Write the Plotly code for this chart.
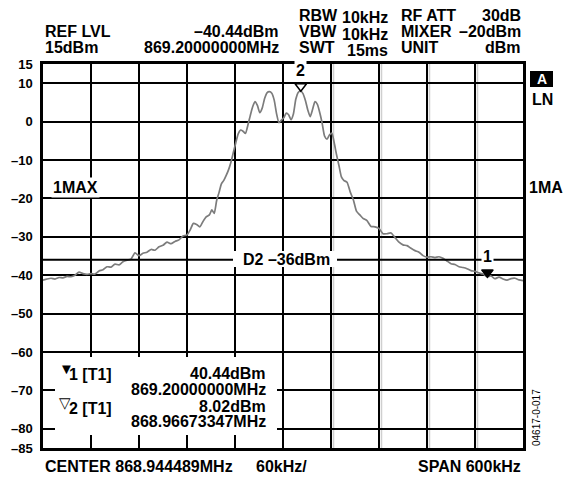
import plotly.graph_objects as go

# ---------------- data ----------------
freq_khz = [-300, -295, -290, -285, -280, -275, -270, -265, -260, -255, -250, -245, -240, -235,
            -230, -225, -220, -215, -210, -205, -200, -195, -190, -185, -180, -175, -170, -165,
            -160, -155, -150, -145, -140, -135, -130, -125, -120, -116, -112, -108, -104, -100,
            -96, -92, -89, -86, -83, -80, -77, -74, -71, -68, -65, -62, -59, -56, -53, -50, -47,
            -44, -41, -38, -35, -32, -29, -26, -23, -20, -17, -14, -11, -8, -5, -2, 1, 4, 7, 10,
            13, 16, 19, 22, 25, 28, 31, 34, 37, 40, 43, 46, 49, 52, 55, 58, 61, 64, 67, 70, 73,
            76, 80, 84, 88, 92, 96, 100, 105, 110, 115, 120, 125, 130, 135, 140, 145, 150, 155,
            160, 165, 170, 175, 180, 185, 190, 195, 200, 205, 210, 215, 220, 225, 230, 235, 240,
            245, 250, 255, 260, 265, 270, 275, 280, 285, 290, 295, 300]
level_dbm = [-41.3, -41.0, -40.8, -41.0, -40.6, -40.7, -40.3, -40.4, -40.0, -39.2, -39.6, -39.8,
             -39.6, -39.7, -38.9, -38.6, -37.8, -37.9, -37.1, -37.3, -36.5, -36.1, -35.8, -34.2,
             -34.9, -34.3, -34.0, -33.3, -33.5, -32.6, -32.2, -31.4, -31.8, -31.2, -30.8, -29.8,
             -29.5, -28.2, -26.5, -26.8, -27.4, -26.0, -24.8, -24.3, -23.0, -23.9, -20.6, -18.5,
             -16.2, -15.3, -14.0, -12.5, -10.5, -8.0, -5.5, -3.2, -2.2, -2.5, -3.1, -1.0, 1.5,
             3.8, 5.2, 4.2, 2.3, 3.5, 6.0, 7.5, 7.8, 7.4, 5.6, 2.0, -0.3, 0.4, 1.0, 2.2, 1.8, 0.5,
             2.0, 5.8, 7.6, 8.02, 7.3, 5.5, 3.0, 1.3, 3.2, 5.2, 4.5, 2.3, -0.5, -3.8, -4.6, -3.5,
             -3.0, -5.5, -8.7, -11.5, -14.4, -15.3, -15.8, -18.3, -20.4, -23.4, -24.3, -25.2,
             -25.8, -27.3, -27.4, -27.8, -29.2, -29.2, -29.0, -30.2, -31.4, -32.1, -32.3, -33.0,
             -33.6, -34.0, -34.9, -35.3, -35.2, -35.4, -35.2, -35.6, -36.3, -37.0, -37.2, -37.8,
             -38.0, -38.3, -38.8, -39.0, -39.4, -39.7, -40.4, -40.2, -40.9, -40.5, -41.0, -41.3,
             -40.9, -40.8, -41.2, -41.4]

center_mhz = 868.944489
marker_names = ["1", "2"]
marker_freq_mhz = [869.20000000, 868.96673347]
marker_level = [-40.44, 8.02]
marker_filled = [True, False]
display_line_dbm = -36

y_tickvals = [15, 10, 0, -10, -20, -30, -40, -50, -60, -70, -80, -85]
y_ticktext = ["15", "10", "0", "–10", "–20", "–30", "–40", "–50", "–60", "–70", "–80", "–85"]
x_tickvals = [-300, -240, -180, -120, -60, 0, 60, 120, 180, 240, 300]

# ---------------- layout helpers ----------------
W, H = 563, 477
L, R, T, B = 43, 40, 64, 29
PW, PH = W - L - R, H - T - B
FONT = "Liberation Sans, Arial, Helvetica, sans-serif"
FS = 16


def pxx(x):
    return (x - L) / PW


def pxy(y):
    return (H - B - y) / PH


fig = go.Figure()

fig.add_trace(go.Scatter(x=freq_khz, y=level_dbm, mode="lines",
                         line=dict(color="#7c7c7c", width=1.7, shape="spline", smoothing=0.6),
                         hoverinfo="skip", showlegend=False))

# display line D2
fig.add_trace(go.Scatter(x=[-300, 300], y=[display_line_dbm, display_line_dbm], mode="lines",
                         line=dict(color="black", width=2), hoverinfo="skip", showlegend=False))

# markers (tip of triangle on the point)
px_per_db = PH / 100.0
msize = 10
mk_x = [(f - center_mhz) * 1000 for f in marker_freq_mhz]
mk_y = [v + (msize * 0.45) / px_per_db for v in marker_level]
for i in range(len(marker_names)):
    fig.add_trace(go.Scatter(
        x=[mk_x[i]], y=[mk_y[i]], mode="markers",
        marker=dict(symbol="triangle-down", size=msize,
                    color="black" if marker_filled[i] else "white",
                    line=dict(color="black", width=1.5)),
        hoverinfo="skip", showlegend=False))

shapes = []
# faint scan shadow next to the right-hand vertical grid lines
for xv in x_tickvals[6:10]:
    xp = L + (xv + 300) / 600 * PW + 2.5
    shapes.append(dict(type="line", xref="paper", yref="paper", x0=pxx(xp), x1=pxx(xp),
                       y0=0, y1=1, line=dict(color="#cfcfcf", width=1.5), layer="below"))
# white box for marker readout
shapes.append(dict(type="rect", xref="paper", yref="paper", x0=pxx(55), x1=pxx(277),
                   y0=pxy(435), y1=pxy(357), fillcolor="white", line=dict(width=0), layer="above"))
# white box for display-line label
shapes.append(dict(type="rect", xref="paper", yref="paper", x0=pxx(233), x1=pxx(337),
                   y0=pxy(267), y1=pxy(251), fillcolor="white", line=dict(width=0), layer="above"))
# "A" black box
shapes.append(dict(type="rect", xref="paper", yref="paper", x0=pxx(530), x1=pxx(553),
                   y0=pxy(87), y1=pxy(71), fillcolor="black", line=dict(width=0), layer="above"))

ann = []


def text(x, y, s, anchor="left", size=FS, color="black", bold=True, bg=None, **kw):
    d = dict(xref="paper", yref="paper", x=pxx(x), y=pxy(y), text=s, showarrow=False,
             xanchor=anchor, yanchor="middle",
             font=dict(family=FONT, size=size, color=color, weight="bold" if bold else "normal"))
    if bg:
        d["bgcolor"] = bg
        d["borderpad"] = 1
    d.update(kw)
    ann.append(d)


# header
text(43, 31.5, "REF LVL")
text(43, 47.5, "15dBm")
text(281, 31.5, "–40.44dBm", "right")
text(281, 47.5, "869.20000000MHz", "right")
text(297, 15.5, "RBW")
text(297, 31.5, "VBW")
text(297, 47.5, "SWT")
text(390, 18, "10kHz", "right")
text(390, 34, "10kHz", "right")
text(390, 50, "15ms", "right")
text(399, 15.5, "RF ATT")
text(399, 31.5, "MIXER")
text(399, 47.5, "UNIT")
text(523, 15.5, "30dB", "right")
text(523, 31.5, "–20dBm", "right")
text(523, 47.5, "dBm", "right")

# right side labels
text(541.5, 79, "A", "center", size=14, color="white")
text(530, 99, "LN")
text(527, 187, "1MA")

# in-plot labels
text(51, 187, "1MAX", bg="white")
text(286, 259, "D2 –36dBm", "center")

# marker labels
for i in range(len(marker_names)):
    ann.append(dict(x=mk_x[i], y=marker_level[i], xref="x", yref="y", text=marker_names[i],
                    showarrow=False, yanchor="bottom", xanchor="center", yshift=10,
                    bgcolor="white", borderpad=1,
                    font=dict(family=FONT, size=FS, color="black", weight="bold")))

# marker readout
text(57, 368, "▼", size=15, bold=False)
text(67, 374, "1 [T1]")
text(268, 373.5, "40.44dBm", "right")
text(268, 389.5, "869.20000000MHz", "right")
text(57, 402, "▽", size=15, bold=False)
text(67, 408, "2 [T1]")
text(268, 406, "8.02dBm", "right")
text(268, 421.5, "868.96673347MHz", "right")

# bottom
text(43, 466, "CENTER 868.944489MHz")
text(281, 466, "60kHz/", "center")
text(523, 466, "SPAN 600kHz", "right")

# figure id
text(536, 418, "04617-0-017", "center", size=10, bold=False, textangle=-90)

fig.update_layout(
    width=W, height=H, margin=dict(l=L, r=R, t=T, b=B),
    paper_bgcolor="white", plot_bgcolor="white",
    shapes=shapes, annotations=ann, showlegend=False,
    xaxis=dict(range=[-300, 300], tickvals=x_tickvals, showticklabels=False, ticks="",
               showgrid=True, gridcolor="black", gridwidth=2, zeroline=False,
               showline=True, linecolor="black", linewidth=2.5, mirror=True, fixedrange=True),
    yaxis=dict(range=[-85, 15], tickvals=y_tickvals, ticktext=y_ticktext, ticks="",
               showgrid=True, gridcolor="black", gridwidth=2, zeroline=False,
               showline=True, linecolor="black", linewidth=2.5, mirror=True,
               ticklabelstandoff=5,
               tickfont=dict(family=FONT, size=13, color="black", weight="bold"), fixedrange=True),
)

fig.write_html("out.html", config={"displayModeBar": False},
               post_script="document.body.style.margin='0';document.body.style.overflow='hidden';")
